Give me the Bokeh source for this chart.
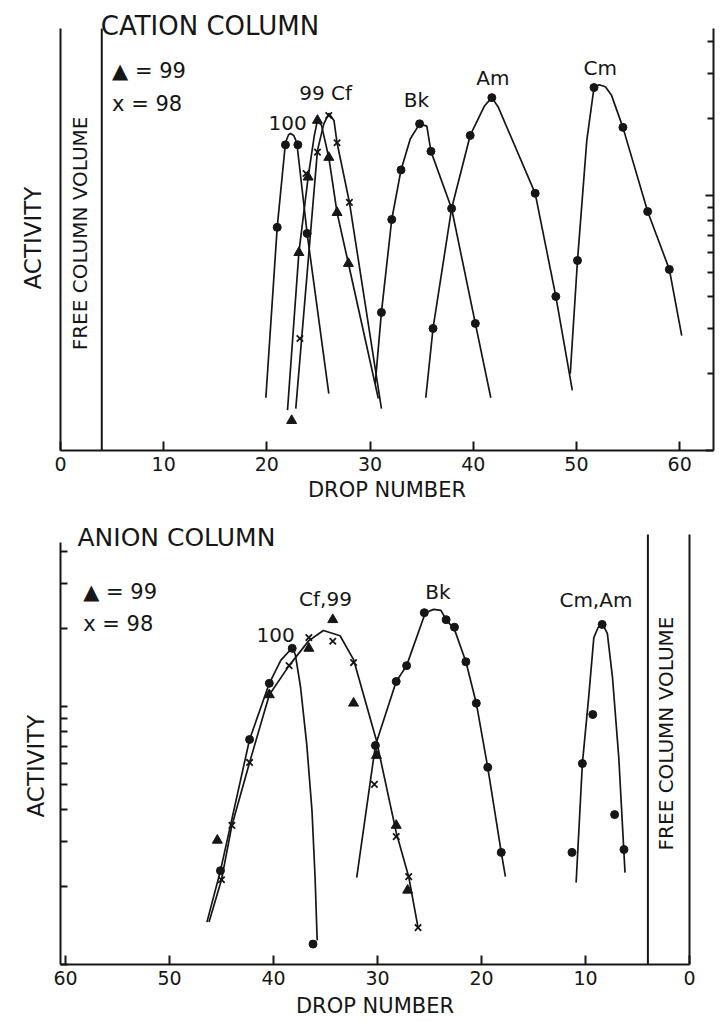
from bokeh.plotting import figure
from bokeh.models import Range1d, LogAxis, FixedTicker, CustomJSTickFormatter, Title
from bokeh.layouts import column
from bokeh.embed import file_html
from bokeh.resources import INLINE
from bokeh.core.properties import value
import math

FONT = "DejaVu Sans"
INK = "#161616"

# ---------------- CATION COLUMN (top) : drop number vs activity ----------------
cat_c100_x = [19.9, 21.0, 21.8, 22.1, 22.3, 22.6, 22.9, 23.9, 26.0]
cat_c100_y = [1.61, 7.5, 16.1, 17.3, 17.5, 17.2, 16.1, 7.1, 1.67]
cat_c99_x = [22.0, 23.1, 24.0, 24.6, 24.9, 25.3, 26.0, 26.8, 27.9, 30.8]
cat_c99_y = [1.44, 5.97, 11.8, 17.2, 19.7, 18.8, 14.1, 8.57, 5.41, 1.60]
cat_c98_x = [22.8, 24.9, 25.5, 26.0, 26.5, 26.8, 28.0, 31.1]
cat_c98_y = [1.46, 15.0, 19.0, 21.0, 19.7, 16.1, 9.4, 1.46]
cat_bk_x = [30.5, 31.1, 32.1, 33.0, 33.9, 34.8, 35.5, 35.9, 37.9, 40.2, 41.7]
cat_bk_y = [1.83, 3.48, 8.05, 12.6, 16.7, 19.1, 18.7, 14.9, 8.89, 3.15, 1.61]
cat_am_x = [35.4, 36.1, 37.9, 39.7, 41.1, 41.8, 42.4, 46.0, 48.0, 49.6]
cat_am_y = [1.61, 3.01, 8.89, 17.2, 22.5, 24.2, 22.3, 10.2, 4.02, 1.72]
cat_cm_x = [49.4, 50.1, 51.0, 51.7, 52.2, 52.8, 53.4, 54.5, 56.9, 59.0, 60.2]
cat_cm_y = [2.0, 5.56, 16.4, 26.5, 27.2, 26.7, 24.7, 18.5, 8.65, 5.13, 2.82]

cat_p100_x = [21.0, 21.8, 23.0, 23.9]
cat_p100_y = [7.5, 15.8, 15.8, 7.1]
cat_p99_x = [22.4, 23.1, 24.0, 24.9, 26.0, 26.8, 27.9]
cat_p99_y = [1.31, 5.97, 11.8, 19.7, 14.1, 8.57, 5.41]
cat_p98_x = [23.2, 23.8, 24.9, 26.0, 26.8, 28.0]
cat_p98_y = [2.75, 12.2, 14.8, 20.6, 16.1, 9.4]
cat_pbk_x = [31.1, 32.1, 33.0, 34.8, 35.9, 37.9, 40.2]
cat_pbk_y = [3.48, 8.05, 12.6, 19.1, 14.9, 8.89, 3.15]
cat_pam_x = [36.1, 39.7, 41.8, 46.0, 48.0]
cat_pam_y = [3.01, 17.2, 24.2, 10.2, 4.02]
cat_pcm_x = [50.1, 51.7, 54.5, 56.9, 59.0]
cat_pcm_y = [5.56, 26.5, 18.5, 8.65, 5.13]

cat_free_volume = 4.0
cat_ticks = [0, 10, 20, 30, 40, 50, 60]

# ---------------- ANION COLUMN (bottom) ----------------
an_c100_x = [46.4, 45.1, 42.3, 40.4, 39.3, 38.2, 37.9, 37.4, 36.8, 36.3, 36.0, 35.8]
an_c100_y = [1.46, 2.31, 7.45, 12.3, 15.1, 16.9, 15.9, 11.9, 7.12, 3.95, 2.17, 1.24]
an_ccf_x = [46.2, 45.0, 44.0, 42.3, 40.4, 38.5, 36.6, 35.2, 33.6, 32.3, 30.1, 28.2, 27.0, 26.1]
an_ccf_y = [1.46, 2.13, 3.46, 6.07, 11.1, 14.4, 18.0, 19.7, 18.8, 15.2, 7.38, 3.25, 2.19, 1.39]
an_cbk_x = [32.0, 30.2, 28.2, 27.2, 25.4, 24.6, 23.9, 23.4, 22.6, 21.5, 20.5, 19.4, 18.1, 17.7]
an_cbk_y = [2.17, 7.06, 12.5, 14.4, 23.1, 23.8, 23.6, 21.7, 19.9, 14.9, 10.3, 5.81, 2.72, 2.19]
an_ccm_x = [10.9, 10.3, 9.7, 9.2, 8.8, 8.4, 7.9, 7.4, 6.8, 6.2]
an_ccm_y = [2.08, 6.01, 10.8, 18.5, 20.2, 21.0, 19.2, 12.9, 6.34, 2.27]

an_p100_x = [38.2, 40.4, 42.3, 45.1, 36.2]
an_p100_y = [16.8, 12.3, 7.45, 2.31, 1.20]
an_p99_x = [34.3, 36.6, 40.4, 32.3, 30.1, 45.4, 28.2, 27.1]
an_p99_y = [21.7, 16.8, 11.1, 10.3, 6.46, 3.03, 3.46, 1.94]
an_p98_x = [36.6, 34.3, 38.5, 32.3, 42.3, 30.3, 44.0, 45.0, 28.2, 27.0, 26.1]
an_p98_y = [18.5, 17.9, 14.4, 14.8, 6.07, 4.99, 3.46, 2.13, 3.13, 2.19, 1.39]
an_pbk_x = [30.2, 28.2, 27.2, 25.5, 23.4, 22.6, 21.5, 20.5, 19.4, 18.1]
an_pbk_y = [7.06, 12.5, 14.4, 23.1, 21.7, 20.3, 14.9, 10.3, 5.81, 2.72]
an_pcm_x = [8.4, 9.3, 10.3, 11.3, 7.2, 6.3]
an_pcm_y = [20.8, 9.31, 6.01, 2.72, 3.81, 2.79]

an_free_volume = 4.0
an_ticks = [60, 50, 40, 30, 20, 10, 0]

log_major = [1, 10]
log_minor = [2, 3, 4, 5, 6, 7, 8, 9, 20, 30, 40]

# label texts and where they sit (drop, activity)
cat_labels = ["100", "99 Cf", "Bk", "Am", "Cm"]
cat_label_x = [22.0, 25.7, 34.5, 41.9, 52.3]
cat_label_y = [19.3, 25.3, 23.6, 29.0, 31.5]
an_labels = ["100", "Cf,99", "Bk", "Cm,Am"]
an_label_x = [39.8, 35.0, 24.2, 9.0]
an_label_y = [19.0, 26.2, 27.7, 25.8]
legend_texts = ["\u25b2 = 99", "x = 98"]

BLANK = CustomJSTickFormatter(code="return ''")


def base_fig(fw, fh, xr, yr, ml, mr, mt, mb):
    p = figure(frame_width=fw, frame_height=fh, x_range=xr, y_range=yr,
               y_axis_type="log", toolbar_location=None, output_backend="svg",
               min_border_left=ml, min_border_right=mr, min_border_top=mt,
               min_border_bottom=mb)
    p.outline_line_color = None
    p.xgrid.visible = False
    p.ygrid.visible = False
    p.background_fill_color = "white"
    p.border_fill_color = "white"
    return p


def style_x(ax, ticks, label_standoff=4):
    ax.ticker = FixedTicker(ticks=ticks)
    ax.major_tick_in = 9
    ax.major_tick_out = 0
    ax.minor_tick_line_color = None
    ax.axis_line_width = 2
    ax.axis_line_color = INK
    ax.major_tick_line_width = 2
    ax.major_tick_line_color = INK
    ax.major_label_text_font = FONT
    ax.major_label_text_font_size = "19px"
    ax.major_label_text_color = INK
    ax.major_label_standoff = 6
    ax.axis_label = "DROP NUMBER"
    ax.axis_label_text_font = FONT
    ax.axis_label_text_font_size = "21px"
    ax.axis_label_text_font_style = "normal"
    ax.axis_label_text_color = INK
    ax.axis_label_standoff = label_standoff


def style_y(ax, top, ticks=True):
    ax.bounds = (1, top)
    if ticks:
        ax.ticker = FixedTicker(ticks=log_major, minor_ticks=log_minor)
    else:
        ax.ticker = FixedTicker(ticks=[])
    ax.formatter = BLANK
    ax.major_tick_in = 7
    ax.major_tick_out = 0
    ax.minor_tick_in = 7
    ax.minor_tick_out = 0
    ax.major_tick_line_width = 2
    ax.minor_tick_line_width = 2
    ax.major_tick_line_color = INK
    ax.minor_tick_line_color = INK
    ax.axis_line_width = 2
    ax.axis_line_color = INK
    ax.major_label_text_font_size = "8px"
    ax.major_label_text_color = None
    ax.major_label_standoff = 0


def side_title(p, offset, standoff):
    p.add_layout(Title(text="ACTIVITY", align="left", offset=offset, standoff=standoff,
                       text_font=FONT, text_font_size="23px", text_font_style="normal",
                       text_color=INK), "left")


def draw_points(p, xs, ys, kind):
    if kind == "circle":
        p.scatter(xs, ys, marker="circle", size=8, fill_color=INK, line_color=INK)
    elif kind == "triangle":
        p.scatter(xs, ys, marker="triangle", size=10, fill_color=INK, line_color=INK)
    else:
        p.scatter(xs, ys, marker="x", size=9, line_color=INK, line_width=1.8)


def txt(p, xs, ys, texts, size, align="center", angle=0.0):
    p.text(x=xs, y=ys, text=texts, text_font=value(FONT), text_font_size=size,
           text_align=align, text_baseline="middle", text_color=INK, angle=angle)


# ======================= top panel =======================
top_y_max = 10 ** (442 / 255)
p1 = base_fig(653, 442, Range1d(0, 63.28), Range1d(1, top_y_max), 60, 6, 8, 56)
style_x(p1.xaxis[0], cat_ticks, 4)
style_y(p1.yaxis[0], 45.2, ticks=False)
right_ax = LogAxis()
style_y(right_ax, 45.0, ticks=True)
right_ax.major_tick_in = 8
right_ax.minor_tick_in = 6
p1.add_layout(right_ax, "right")
side_title(p1, 161, 30)

p1.segment(x0=[cat_free_volume], y0=[1], x1=[cat_free_volume], y1=[45.2],
           line_color=INK, line_width=2)

for xs, ys in [(cat_c100_x, cat_c100_y), (cat_c99_x, cat_c99_y), (cat_c98_x, cat_c98_y),
               (cat_bk_x, cat_bk_y), (cat_am_x, cat_am_y), (cat_cm_x, cat_cm_y)]:
    p1.line(xs, ys, line_color=INK, line_width=1.7)

draw_points(p1, cat_p100_x, cat_p100_y, "circle")
draw_points(p1, cat_pbk_x, cat_pbk_y, "circle")
draw_points(p1, cat_pam_x, cat_pam_y, "circle")
draw_points(p1, cat_pcm_x, cat_pcm_y, "circle")
draw_points(p1, cat_p99_x, cat_p99_y, "triangle")
draw_points(p1, cat_p98_x, cat_p98_y, "x")

txt(p1, [3.9], [46.4], ["CATION COLUMN"], "26px", align="left")
txt(p1, [5.0, 5.0], [30.9, 22.9], legend_texts, "21px", align="left")
txt(p1, cat_label_x, cat_label_y, cat_labels, "20px")
txt(p1, [1.85], [7.1], ["FREE COLUMN VOLUME"], "20px", angle=math.pi / 2)

# ======================= bottom panel =======================
bot_y_max = 10 ** (458 / 258)
p2 = base_fig(629, 458, Range1d(60.48, 0), Range1d(1, bot_y_max), 60, 26, 0, 56)
style_x(p2.xaxis[0], an_ticks, 6)
style_y(p2.yaxis[0], 43.2, ticks=True)
right2 = LogAxis()
style_y(right2, 46.4, ticks=False)
p2.add_layout(right2, "right")
side_title(p2, 147, 24)

p2.segment(x0=[an_free_volume], y0=[1], x1=[an_free_volume], y1=[46.4],
           line_color=INK, line_width=2)

for xs, ys in [(an_c100_x, an_c100_y), (an_ccf_x, an_ccf_y),
               (an_cbk_x, an_cbk_y), (an_ccm_x, an_ccm_y)]:
    p2.line(xs, ys, line_color=INK, line_width=1.7)

draw_points(p2, an_p100_x, an_p100_y, "circle")
draw_points(p2, an_pbk_x, an_pbk_y, "circle")
draw_points(p2, an_pcm_x, an_pcm_y, "circle")
draw_points(p2, an_p99_x, an_p99_y, "triangle")
draw_points(p2, an_p98_x, an_p98_y, "x")

txt(p2, [58.85], [45.2], ["ANION COLUMN"], "25px", align="left")
txt(p2, [58.3, 58.3], [27.7, 20.8], legend_texts, "21px", align="left")
txt(p2, an_label_x, an_label_y, an_labels, "20px")
txt(p2, [2.3], [7.86], ["FREE COLUMN VOLUME"], "20px", angle=math.pi / 2)

layout = column(p1, p2, spacing=0)
open("out.html", "w").write(file_html(layout, INLINE))
